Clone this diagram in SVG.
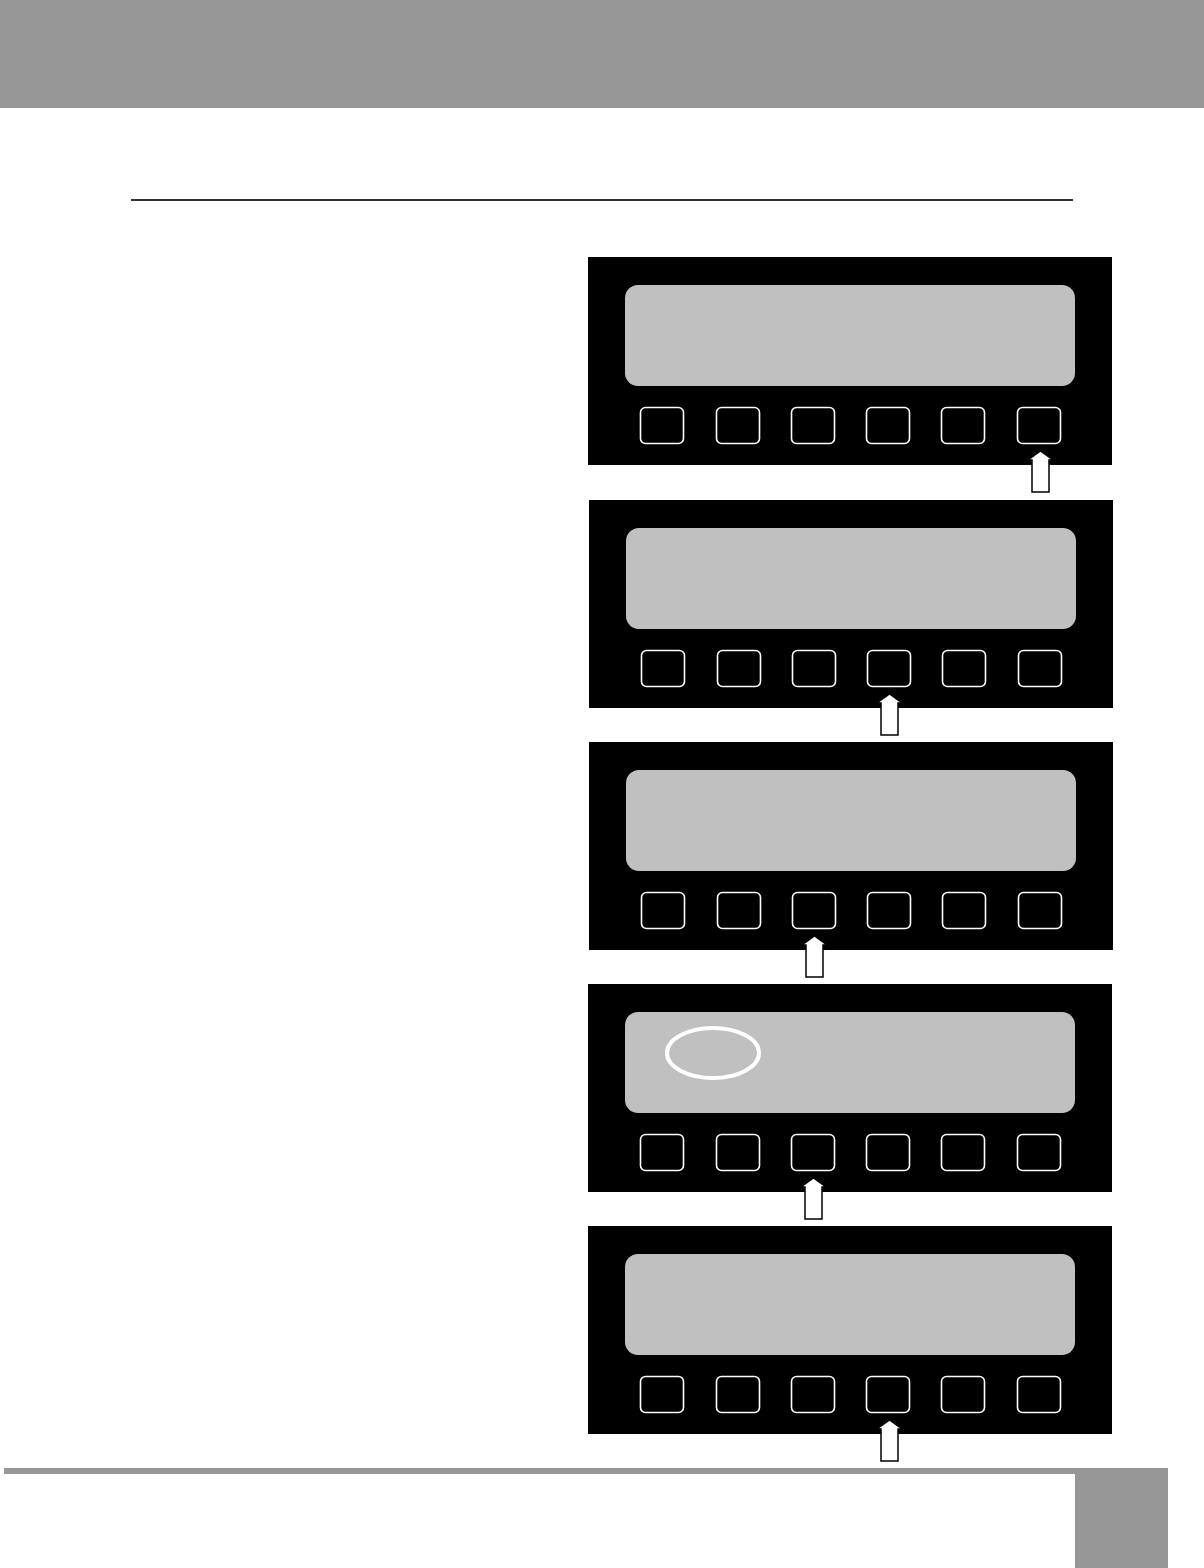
<svg xmlns="http://www.w3.org/2000/svg" xmlns:xlink="http://www.w3.org/1999/xlink" width="1204" height="1568" viewBox="0 0 1204 1568">
<style>
.band{fill:#979797}
.panel{fill:#000}
.screen{fill:#c0c0c0}
.btn{fill:#000;stroke:#fff;stroke-width:1.6}
.arrow{fill:#fff;stroke:#000;stroke-width:1.5;stroke-linejoin:miter}
.ring{fill:none;stroke:#fff;stroke-width:4}
</style>
<defs>
<g id="device">
<rect class="panel" x="0" y="0" width="524" height="208"/>
<rect class="screen" x="37" y="28" width="450" height="101" rx="13"/>
<rect class="btn" x="52.5" y="150.5" width="43" height="36" rx="5"/>
<rect class="btn" x="128.5" y="150.5" width="43" height="36" rx="5"/>
<rect class="btn" x="203.5" y="150.5" width="43" height="36" rx="5"/>
<rect class="btn" x="278.5" y="150.5" width="43" height="36" rx="5"/>
<rect class="btn" x="353.5" y="150.5" width="43" height="36" rx="5"/>
<rect class="btn" x="429.5" y="150.5" width="43" height="36" rx="5"/>
</g>
<path id="uparrow" d="M0,0 L12.5,9 L8.5,9 L8.5,41 L-8.5,41 L-8.5,9 L-12.5,9 Z"/>
</defs>
<rect class="band" x="0" y="0" width="1204" height="108"/>
<rect x="131" y="199.2" width="942" height="1.6" fill="#000"/>
<g id="panel1"><use xlink:href="#device" x="588" y="257"/></g>
<g id="panel2"><use xlink:href="#device" x="589" y="500"/></g>
<g id="panel3"><use xlink:href="#device" x="589" y="742"/></g>
<g id="panel4"><use xlink:href="#device" x="588" y="984"/>
<ellipse class="ring" cx="713" cy="1053" rx="46" ry="25"/></g>
<g id="panel5"><use xlink:href="#device" x="588" y="1226"/></g>
<g id="connectors">
<use class="arrow" xlink:href="#uparrow" x="1040.5" y="451"/>
<use class="arrow" xlink:href="#uparrow" x="889.5" y="694"/>
<use class="arrow" xlink:href="#uparrow" x="814.5" y="936"/>
<use class="arrow" xlink:href="#uparrow" x="813.5" y="1178"/>
<use class="arrow" xlink:href="#uparrow" x="889.5" y="1420"/>
</g>
<rect class="band" x="4" y="1468" width="1164" height="6"/>
<rect class="band" x="1075" y="1468" width="93" height="100"/>
</svg>
